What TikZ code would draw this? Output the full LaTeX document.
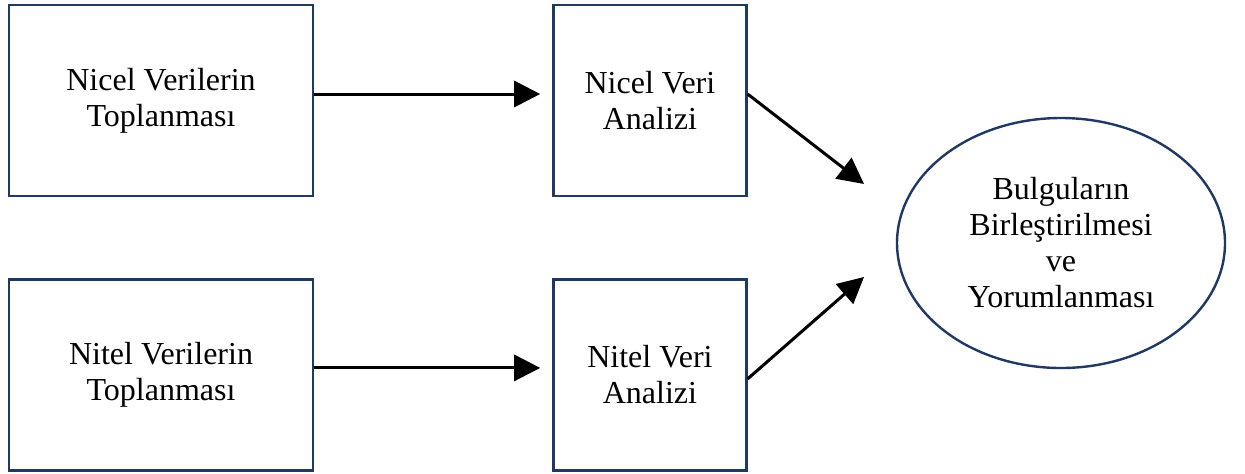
\documentclass[tikz,border=0pt]{standalone}
\usepackage{fontspec}
\setmainfont{Liberation Serif}
\usepackage{xcolor}
\usepackage{tikz}
\usetikzlibrary{arrows.meta,positioning,shapes.geometric}
\definecolor{framenavy}{HTML}{1F3864}
\tikzset{
	box/.style={draw=framenavy, line width=1.2pt, align=center, inner sep=4pt,
		font=\fontsize{16pt}{18pt}\selectfont},
	arrow/.style={-{Triangle[length=13pt, width=13pt]}, line width=1.5pt},
}

\begin{document}
\begin{tikzpicture}[
		collectbox/.style={box, minimum width=152pt, minimum height=95.5pt},
		analysisbox/.style={box, minimum width=96.5pt, minimum height=95.5pt},
		resultoval/.style={box, ellipse, minimum width=164pt, minimum height=125pt},
		]
		\useasboundingbox (0,0) rectangle (622.5pt,-236.5pt);
		
		%% -- Data collection (left column)
		\node[collectbox] at (80.5pt,-50.25pt) (nicelcol)
		{Nicel Verilerin\\Toplanması};
		
		\node[collectbox, below=40.5pt of nicelcol] (nitelcol)
		{Nitel Verilerin\\Toplanması};
		
		%% -- Analysis (middle column)
		\node[analysisbox, right=119pt of nicelcol] (nicelan)
		{Nicel Veri\\Analizi};
		
		\node[analysisbox, right=119pt of nitelcol] (nitelan)
		{Nitel Veri\\Analizi};
		
		%% -- Merging of findings
		\node[resultoval] at (530.5pt,-121.5pt) (merge)
		{Bulguların\\Birleştirilmesi\\ve\\Yorumlanması};
		
		\coordinate (tipa) at ([shift={(-98.5pt,29.5pt)}]merge.center);
		\coordinate (tipb) at ([shift={(-98.5pt,-17pt)}]merge.center);
		
		%% -- Arrows
		\draw[arrow, shorten >=6pt]
		([yshift=3.25pt]nicelcol.east) -- ([yshift=3.25pt]nicelan.west);
		\draw[arrow, shorten >=6pt]
		([yshift=3.5pt]nitelcol.east) -- ([yshift=3.5pt]nitelan.west);
		
		\draw[arrow] ([yshift=3.25pt]nicelan.east) -- (tipa);
		\draw[arrow] ([yshift=-2pt]nitelan.east) -- (tipb);
		
	\end{tikzpicture}
\end{document}
